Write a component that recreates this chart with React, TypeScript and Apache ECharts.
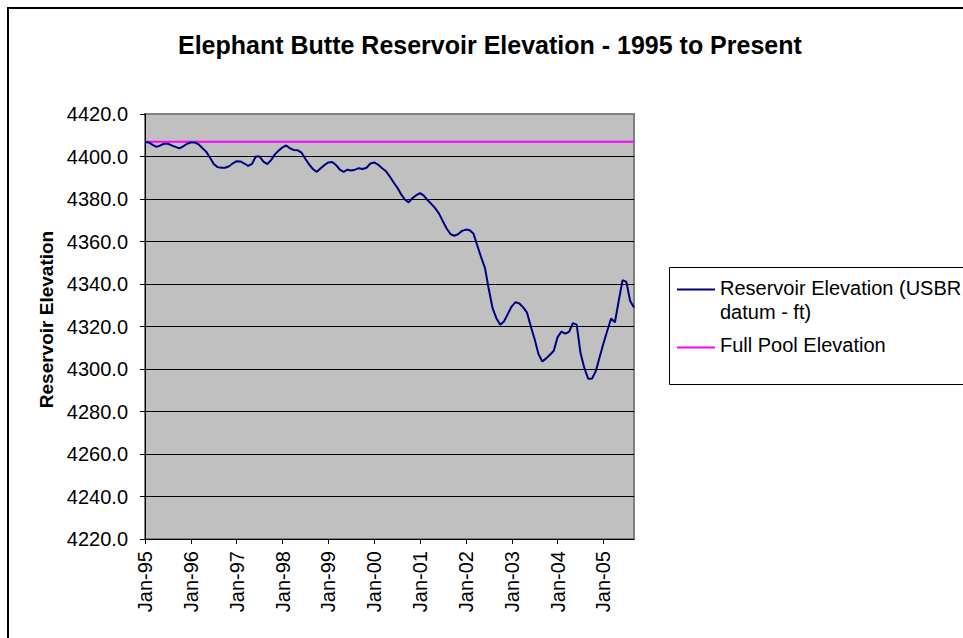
import React, { useEffect, useRef } from 'react';
import * as echarts from 'echarts';

const FONT = '"Liberation Sans", Arial, Helvetica, sans-serif';

const TITLE = 'Elephant Butte Reservoir Elevation - 1995 to Present';
const Y_AXIS_NAME = 'Reservoir Elevation';
const SERIES_RES = 'Reservoir Elevation (USBR datum - ft)';
const SERIES_POOL = 'Full Pool Elevation';

const MONTHS = ['Jan', 'Feb', 'Mar', 'Apr', 'May', 'Jun', 'Jul', 'Aug', 'Sep', 'Oct', 'Nov', 'Dec'];
const YEARS = ['95', '96', '97', '98', '99', '00', '01', '02', '03', '04', '05'];

// Monthly reservoir elevation, Jan-95 .. Sep-05 (ft)
const elevation = [
  4406.8, 4406.6, 4405.5, 4404.5, 4405.2, 4406.0, 4406.0, 4405.2, 4404.5, 4403.8, 4404.8, 4406.0, // 1995
  4406.6, 4406.6, 4405.8, 4404.0, 4402.3, 4399.5, 4396.5, 4395.0, 4394.7, 4394.7, 4395.4, 4396.8, // 1996
  4397.8, 4397.7, 4396.7, 4395.6, 4396.5, 4400.0, 4400.0, 4397.6, 4396.4, 4398.3, 4401.0, 4402.8, // 1997
  4404.3, 4405.2, 4403.8, 4403.0, 4402.9, 4401.8, 4398.8, 4396.2, 4394.0, 4392.8, 4394.5, 4396.0, // 1998
  4397.2, 4397.4, 4396.0, 4393.8, 4392.8, 4393.8, 4393.4, 4393.8, 4394.5, 4394.1, 4394.7, 4396.7, // 1999
  4397.2, 4396.2, 4394.6, 4393.2, 4390.8, 4388.0, 4385.5, 4382.3, 4379.8, 4378.4, 4380.4, 4381.8, // 2000
  4382.8, 4381.6, 4379.4, 4377.6, 4375.6, 4373.0, 4369.4, 4366.0, 4363.4, 4362.7, 4363.5, 4365.0, // 2001
  4365.6, 4365.3, 4363.6, 4358.0, 4352.5, 4347.5, 4337.5, 4328.5, 4323.8, 4320.8, 4322.5, 4326.0, // 2002
  4329.5, 4331.5, 4330.8, 4329.0, 4326.5, 4320.0, 4314.0, 4307.0, 4303.5, 4305.0, 4306.7, 4308.6, // 2003
  4315.0, 4317.6, 4316.6, 4317.5, 4321.6, 4320.9, 4307.5, 4300.5, 4295.4, 4295.4, 4299.0, 4305.5, // 2004
  4312.0, 4318.0, 4323.8, 4322.0, 4332.0, 4341.8, 4341.0, 4332.0, 4329.0, // 2005
];

const FULL_POOL = 4407.0;

const categories: string[] = [];
YEARS.forEach((y) => MONTHS.forEach((m) => categories.push(`${m}-${y}`)));
categories.length = elevation.length;

const fullPool = elevation.map(() => FULL_POOL);

export default function App() {
  const ref = useRef<HTMLDivElement>(null);

  useEffect(() => {
    if (!ref.current) return;
    const chart = echarts.init(ref.current, null, { renderer: 'svg' });
    chart.setOption({
      animation: false,
      backgroundColor: '#ffffff',
      textStyle: { fontFamily: FONT },
      title: {
        text: TITLE,
        left: 178,
        top: 32,
        padding: 0,
        textStyle: { fontSize: 25, fontWeight: 'bold', color: '#000', fontFamily: FONT },
      },
      grid: {
        left: 145,
        top: 114,
        width: 489,
        height: 425,
        show: true,
        backgroundColor: '#c0c0c0',
        borderColor: '#808080',
        borderWidth: 2,
        containLabel: false,
        outerBoundsMode: 'none',
      },
      xAxis: {
        type: 'category',
        data: categories,
        boundaryGap: false,
        axisLine: { show: true, lineStyle: { color: '#000', width: 1 } },
        axisTick: { show: true, interval: 11, length: 5, lineStyle: { color: '#000', width: 1 } },
        axisLabel: {
          interval: 11,
          rotate: 90,
          margin: 12,
          fontSize: 20,
          color: '#000',
          fontFamily: FONT,
        },
        splitLine: { show: false },
      },
      yAxis: {
        type: 'value',
        min: 4220,
        max: 4420,
        interval: 20,
        name: Y_AXIS_NAME,
        nameLocation: 'middle',
        nameRotate: 90,
        nameGap: 87,
        nameTextStyle: {
          fontSize: 19,
          fontWeight: 'bold',
          color: '#000',
          fontFamily: FONT,
          padding: [0, 0, 0, 14],
        },
        axisLine: { show: true, lineStyle: { color: '#000', width: 1 } },
        axisTick: { show: true, length: 5, lineStyle: { color: '#000', width: 1 } },
        axisLabel: {
          margin: 17,
          fontSize: 20,
          color: '#000',
          fontFamily: FONT,
          formatter: (v: number) => v.toFixed(1),
        },
        splitLine: { show: true, showMaxLine: false, lineStyle: { color: '#000', width: 1 } },
      },
      series: [
        {
          name: SERIES_RES,
          type: 'line',
          data: elevation,
          showSymbol: false,
          symbol: 'none',
          lineStyle: { color: '#000080', width: 2 },
          itemStyle: { color: '#000080' },
          z: 3,
        },
        {
          name: SERIES_POOL,
          type: 'line',
          data: fullPool,
          showSymbol: false,
          symbol: 'none',
          lineStyle: { color: '#ff00ff', width: 2 },
          itemStyle: { color: '#ff00ff' },
          z: 2,
        },
      ],
      graphic: [
        {
          type: 'rect',
          silent: true,
          shape: { x: 8, y: 8, width: 1200, height: 900 },
          style: { fill: 'none', stroke: '#000', lineWidth: 2 },
          z: 100,
        },
        {
          type: 'group',
          silent: true,
          children: [
            {
              type: 'rect',
              shape: { x: 669.5, y: 267.5, width: 400, height: 117 },
              style: { fill: '#ffffff', stroke: '#000', lineWidth: 1 },
            },
            {
              type: 'line',
              shape: { x1: 677, y1: 289.5, x2: 715, y2: 289.5 },
              style: { stroke: '#000080', lineWidth: 2 },
            },
            {
              type: 'text',
              x: 720,
              y: 288,
              style: {
                text: 'Reservoir Elevation (USBR',
                fontSize: 20,
                fontFamily: FONT,
                fill: '#000',
                align: 'left',
                verticalAlign: 'middle',
              },
            },
            {
              type: 'text',
              x: 720,
              y: 312,
              style: {
                text: 'datum - ft)',
                fontSize: 20,
                fontFamily: FONT,
                fill: '#000',
                align: 'left',
                verticalAlign: 'middle',
              },
            },
            {
              type: 'line',
              shape: { x1: 677, y1: 347.5, x2: 715, y2: 347.5 },
              style: { stroke: '#ff00ff', lineWidth: 2 },
            },
            {
              type: 'text',
              x: 720,
              y: 344.5,
              style: {
                text: SERIES_POOL,
                fontSize: 20,
                fontFamily: FONT,
                fill: '#000',
                align: 'left',
                verticalAlign: 'middle',
              },
            },
          ],
        },
      ],
    });
    return () => chart.dispose();
  }, []);

  return (
    <div
      ref={ref}
      style={{ position: 'fixed', left: 0, top: 0, width: 963, height: 638, background: '#fff' }}
    />
  );
}
